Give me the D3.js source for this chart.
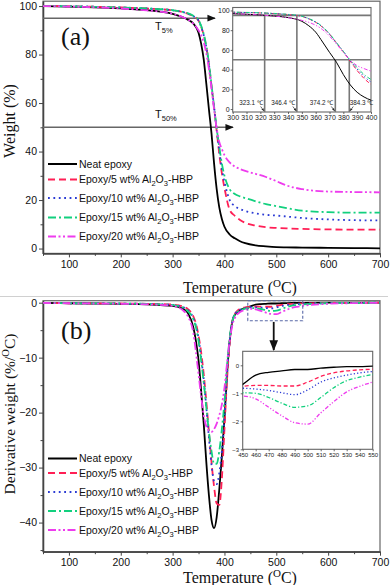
<!DOCTYPE html>
<html><head><meta charset="utf-8">
<script src="https://cdn.jsdelivr.net/npm/d3@7"></script>
<style>body{margin:0;background:#fff}svg{display:block}</style>
</head><body>
<svg id="c" width="390" height="585"></svg>
<script>
// ---------------- DATA ----------------
const loadings = [null, 5, 10, 15, 20];   // wt% Al2O3-HBP (null = neat epoxy)

const tgaTemp = [50,100,150,200,250,300,320,330,340,350,355,360,365,370,375,380,385,390,395,400,410,420,430,440,460,480,500,520,550,600,650,700];
const tgaNeat = [100,99.8,99.5,99.0,98.3,96.8,95.4,94.3,92.8,89,84.5,78,68,57.5,47.5,35,24.5,17,12.2,9,5.8,4.2,3,2.2,1.3,0.9,0.6,0.5,0.4,0.3,0.2,0.1];
const tga5    = [100,99.9,99.7,99.4,99.0,98.2,97.5,96.8,95.8,94,91.5,88,83,76,67,58,48.5,39,31,25,16,13.5,11.8,10.6,9.5,8.8,8.5,8.3,8.1,7.9,7.8,7.8];
const tga10   = [100,99.9,99.7,99.4,99.0,98.2,97.5,96.8,95.8,94,91.5,88,83,76,67,58.5,49,40.5,33,27.5,20,17.5,16.3,15.5,14.5,13.9,13.6,13.2,12.6,12.0,11.7,11.6];
const tga15   = [100,99.9,99.7,99.4,99.0,98.3,97.6,97,96,94.2,91.8,88.5,83.5,76.5,67.5,58.5,49.5,42,35,30,24.5,22.5,21.5,20.8,19.5,18.3,17.5,16.7,15.6,15,14.8,14.8];
const tga20   = [100,99.8,99.5,99.0,98.2,96.8,95.4,94.3,92.7,90,88,85,80.5,74,66,57.5,49.5,44,41,38.5,35.5,33.8,32.8,32,30.8,29.5,27.8,26,24.5,23.5,23.3,23.2];

const dtgTemp = [50,100,150,200,250,300,320,330,340,345,350,355,360,365,370,375,380,385,390,395,400,405,410,415,420,430,440,450,460,470,480,490,500,510,520,530,540,550,600,650,700];
const dtgNeat = [-0.05,-0.1,-0.15,-0.2,-0.3,-0.6,-1.1,-2.0,-4.5,-7,-10.5,-16,-22,-29,-35,-39.5,-41,-39,-34,-28,-21,-13,-7,-3.5,-2.2,-1.4,-0.95,-0.68,-0.35,-0.25,-0.2,-0.15,-0.15,-0.1,-0.07,-0.05,-0.05,-0.03,0,0,0];
const dtg5    = [-0.05,-0.1,-0.12,-0.15,-0.2,-0.35,-0.7,-1.2,-2.5,-3.8,-6,-9,-13,-18,-23.5,-29,-33.5,-36.5,-36.8,-32,-23,-14,-7.5,-3.5,-2,-1.1,-0.85,-0.75,-0.72,-0.72,-0.74,-0.74,-0.6,-0.4,-0.27,-0.2,-0.16,-0.14,-0.05,-0.02,0];
const dtg10   = [-0.05,-0.1,-0.12,-0.15,-0.22,-0.4,-0.8,-1.4,-2.8,-4.2,-6.5,-10,-14,-19,-24.5,-29.5,-32.5,-33,-31,-27,-21,-13,-7,-3.5,-2.1,-1.3,-1.0,-0.82,-0.85,-0.9,-0.98,-1.05,-0.88,-0.6,-0.45,-0.35,-0.27,-0.22,-0.08,-0.03,0];
const dtg15   = [-0.05,-0.1,-0.12,-0.15,-0.22,-0.45,-0.9,-1.6,-3,-4.5,-7,-10.5,-14.5,-19,-23.5,-27,-29.3,-29.3,-27,-23,-18,-11.5,-6.5,-3.5,-2.2,-1.4,-1.1,-0.98,-1.0,-1.15,-1.35,-1.5,-1.45,-1.15,-0.8,-0.55,-0.42,-0.33,-0.1,-0.04,0];
const dtg20   = [-0.05,-0.1,-0.15,-0.2,-0.3,-0.6,-1.4,-2.6,-5.5,-9,-13,-17,-20.5,-22.5,-23.3,-23.5,-23,-22,-20.5,-18.5,-15.5,-11,-7,-4.2,-2.8,-1.7,-1.3,-1.1,-1.2,-1.5,-1.8,-2.05,-2.1,-1.7,-1.3,-0.95,-0.75,-0.6,-0.2,-0.08,-0.02];

const xTicks = [100,200,300,400,500,600,700];
const xMinor = [50,150,250,350,450,550,650];
const yTicksA = [0,20,40,60,80,100];
const yMinorA = [10,30,50,70,90];
const yTicksB = [0,-10,-20,-30,-40];
const yMinorB = [-5,-15,-25,-35,-45];
const insetATicksX = [300,310,320,330,340,350,360,370,380,390,400];
const insetATicksY = [0,20,40,60,80,100];
const insetBTicksX = [450,460,470,480,490,500,510,520,530,540,550];
const insetBTicksY = [0,-1,-2,-3];
const tPoints = [323.1, 346.4, 374.2, 384.3];
const tLevels = [95, 95, 50, 50];
const tLevelLines = [95, 50];
const tLabels = ["5%", "50%"];

// ---------------- STYLE ----------------
const styles = [
  {c:"#000000", d:null,            di:null},
  {c:"#ff1f55", d:"7,4",           di:"4,2.5"},
  {c:"#2b3bd4", d:"1.8,3.6",       di:"1.2,2.2"},
  {c:"#12d07e", d:"8,3,2,3",       di:"4,2,1.2,2"},
  {c:"#ee3cee", d:"8,2.5,2,2.5,2,2.5", di:"4,1.8,1.2,1.8,1.2,1.8"}
];
const tgaSeries = [tgaNeat, tga5, tga10, tga15, tga20];
const dtgSeries = [dtgNeat, dtg5, dtg10, dtg15, dtg20];

const svg = d3.select("#c");
const sans = "Liberation Sans, Arial, sans-serif";
const serif = "Liberation Serif, Times New Roman, serif";
const axisCol = "#444";

// defs
const defs = svg.append("defs");
defs.append("marker").attr("id","ah").attr("viewBox","0 0 10 10").attr("refX",9).attr("refY",5)
  .attr("markerWidth",6).attr("markerHeight",6).attr("orient","auto")
  .append("path").attr("d","M0,1 L10,5 L0,9 Z").attr("fill","#111");
defs.append("marker").attr("id","ahs").attr("viewBox","0 0 10 10").attr("refX",9).attr("refY",5)
  .attr("markerWidth",4).attr("markerHeight",4).attr("orient","auto")
  .append("path").attr("d","M0,1 L10,5 L0,9 Z").attr("fill","#222");

const X0 = 43, X1 = 380;
const x = d3.scaleLinear().domain([50,700]).range([X0,X1]);
const yA = d3.scaleLinear().domain([-2,102]).range([253.4,1.2]);
const yB = d3.scaleLinear().domain([-45.3,0.36]).range([551.7,300.7]);

function clip(id, x0, y0, w, h){
  defs.append("clipPath").attr("id",id).append("rect").attr("x",x0).attr("y",y0).attr("width",w).attr("height",h);
}

function mainAxes(y, yTicks, yMinor){
  const r = y.range();
  const g = svg.append("g");
  g.append("rect").attr("x",X0).attr("y",r[1]).attr("width",X1-X0).attr("height",r[0]-r[1])
    .attr("fill","none").attr("stroke","#666").attr("stroke-width",1.2);
  const ax = g.append("g").attr("transform",`translate(0,${r[0]})`)
    .call(d3.axisBottom(x).tickValues(xTicks).tickSize(4).tickPadding(3).tickSizeOuter(0));
  const axm = g.append("g").attr("transform",`translate(0,${r[0]})`)
    .call(d3.axisBottom(x).tickValues(xMinor).tickSize(2.5).tickFormat("").tickSizeOuter(0));
  const ay = g.append("g").attr("transform",`translate(${X0},0)`)
    .call(d3.axisLeft(y).tickValues(yTicks).tickSize(4).tickPadding(2).tickSizeOuter(0));
  const aym = g.append("g").attr("transform",`translate(${X0},0)`)
    .call(d3.axisLeft(y).tickValues(yMinor.filter(v=>v>=y.domain()[0] && v<=y.domain()[1])).tickSize(2.5).tickFormat("").tickSizeOuter(0));
  [ax,axm,ay,aym].forEach(a=>{
    a.selectAll("path").attr("stroke",axisCol).attr("stroke-width",1.3);
    a.selectAll("line").attr("stroke",axisCol).attr("stroke-width",1);
    a.selectAll("text").attr("font-family",sans).attr("font-size","10.5px").attr("fill","#111");
  });
  return g;
}

function drawCurves(g, xs, temps, seriesArr, y, clipId, lw, inset){
  const gg = g.append("g").attr("clip-path",`url(#${clipId})`);
  seriesArr.forEach((vals,i)=>{
    const pts = temps.map((t,k)=>[t, vals[k]]);
    const line = d3.line().x(d=>xs(d[0])).y(d=>y(d[1])).curve(d3.curveMonotoneX);
    gg.append("path").attr("d",line(pts)).attr("fill","none")
      .attr("stroke",styles[i].c).attr("stroke-width",lw)
      .attr("stroke-dasharray", inset ? styles[i].di : styles[i].d);
  });
}

function legendLabel(g, lx, ly, loading, fs){
  const t = g.append("text").attr("x",lx).attr("y",ly).attr("font-family",sans).attr("font-size",fs+"px").attr("fill","#111");
  if(loading===null){ t.text("Neat epoxy"); return; }
  t.append("tspan").text(`Epoxy/${loading} wt% Al`);
  t.append("tspan").attr("font-size",(fs*0.72)+"px").attr("dy",3).text("2");
  t.append("tspan").attr("dy",-3).text("O");
  t.append("tspan").attr("font-size",(fs*0.72)+"px").attr("dy",3).text("3");
  t.append("tspan").attr("dy",-3).text("-HBP");
}

function legend(ys){
  const g = svg.append("g");
  loadings.forEach((l,i)=>{
    g.append("line").attr("x1",48).attr("x2",77).attr("y1",ys[i]).attr("y2",ys[i])
      .attr("stroke",styles[i].c).attr("stroke-width",2).attr("stroke-dasharray",styles[i].d);
    legendLabel(g, 79, ys[i]+3.5, l, 10.5);
  });
}

function tempTitle(yPos){
  const t = svg.append("text").attr("x",240).attr("y",yPos).attr("text-anchor","middle")
    .attr("font-family",serif).attr("font-size","16px").attr("fill","#111");
  t.append("tspan").text("Temperature  (");
  t.append("tspan").attr("font-size","11px").attr("dy",-6).text("O");
  t.append("tspan").attr("dy",6).text("C)");
}

// ================= PANEL (a) =================
clip("clipA", X0, yA.range()[1], X1-X0, yA.range()[0]-yA.range()[1]);
mainAxes(yA, yTicksA, yMinorA);

const tArrowEnd = [215, 233];
tLevelLines.forEach((lv,i)=>{
  svg.append("line").attr("x1",X0).attr("x2",tArrowEnd[i]).attr("y1",yA(lv)).attr("y2",yA(lv))
    .attr("stroke","#666").attr("stroke-width",1.4).attr("marker-end","url(#ah)");
  const t = svg.append("text").attr("x",155).attr("y",yA(lv)+ (i===0?12:-9)).attr("font-family",sans)
    .attr("font-size","11px").attr("fill","#111");
  t.append("tspan").text("T");
  t.append("tspan").attr("font-size","7.5px").attr("dy",3).text(tLabels[i]);
});

drawCurves(svg, x, tgaTemp, tgaSeries, yA, "clipA", 1.8, false);

svg.append("text").attr("x",61).attr("y",45).attr("font-family",serif).attr("font-size","26px").attr("fill","#111").text("(a)");
legend([164,179.5,198,217.5,236.5]);
tempTitle(293);

svg.append("text").attr("transform","translate(15,121) rotate(-90)").attr("text-anchor","middle")
  .attr("font-family",serif).attr("font-size","16px").attr("fill","#111").text("Weight (%)");

// ---- inset (a)
const xiA = d3.scaleLinear().domain([300,400]).range([232.7,371]);
const yiA = d3.scaleLinear().domain([-3,103]).range([112,7.5]);
{
  const g = svg.append("g");
  g.append("rect").attr("x",232.7).attr("y",7.5).attr("width",371-232.7).attr("height",112-7.5)
    .attr("fill","#fff").attr("stroke","#666").attr("stroke-width",1.1);
  clip("clipIA",232.7,7.5,371-232.7,112-7.5);
  tLevelLines.forEach(lv=>{
    g.append("line").attr("x1",232.7).attr("x2",371).attr("y1",yiA(lv)).attr("y2",yiA(lv))
      .attr("stroke","#777").attr("stroke-width",1.6);
  });
  tPoints.forEach((tp,i)=>{
    const last = i===tPoints.length-1;
    g.append("line").attr("x1",xiA(tp)).attr("x2",xiA(tp)).attr("y1",yiA(-3)).attr("y2",yiA(tLevels[i]))
      .attr("stroke","#777").attr("stroke-width",1.6);
    g.append("text").attr("x",last ? xiA(tp)+0.5 : xiA(tp)-2).attr("y",105).attr("text-anchor",last?"start":"end")
      .attr("font-family",sans).attr("font-size","6.3px").attr("fill","#222").text(tp.toFixed(1)+" ℃");
    const sx = last ? xiA(tp)+4 : xiA(tp)-4;
    const ex = last ? xiA(tp)+0.8 : xiA(tp)-0.8;
    g.append("line").attr("x1",sx).attr("y1",106.5).attr("x2",ex).attr("y2",110.8)
      .attr("stroke","#222").attr("stroke-width",0.7).attr("marker-end","url(#ahs)");
  });
  drawCurves(g, xiA, tgaTemp, tgaSeries, yiA, "clipIA", 1.0, true);
  const ax = g.append("g").attr("transform","translate(0,112)")
    .call(d3.axisBottom(xiA).tickValues(insetATicksX).tickSize(2).tickPadding(1.5).tickSizeOuter(0).tickFormat(d3.format("d")));
  const ay = g.append("g").attr("transform","translate(232.7,0)")
    .call(d3.axisLeft(yiA).tickValues(insetATicksY).tickSize(2).tickPadding(1).tickSizeOuter(0).tickFormat(d3.format("d")));
  [ax,ay].forEach(a=>{
    a.selectAll("path").attr("stroke","none");
    a.selectAll("line").attr("stroke","#444").attr("stroke-width",0.8);
    a.selectAll("text").attr("font-family",sans).attr("font-size","7px").attr("fill","#222");
  });
}

// separator
svg.append("line").attr("x1",0).attr("x2",388).attr("y1",296.5).attr("y2",296.5).attr("stroke","#d0d0d0").attr("stroke-width",1);

// ================= PANEL (b) =================
clip("clipB", X0, yB.range()[1], X1-X0, yB.range()[0]-yB.range()[1]);
mainAxes(yB, yTicksB, yMinorB);
drawCurves(svg, x, dtgTemp, dtgSeries, yB, "clipB", 1.8, false);

svg.append("text").attr("x",61).attr("y",339).attr("font-family",serif).attr("font-size","26px").attr("fill","#111").text("(b)");
legend([458.5,473,492,511,530]);
tempTitle(583);
{
  const t = svg.append("text").attr("transform","translate(15,414) rotate(-90)").attr("text-anchor","middle")
    .attr("font-family",serif).attr("font-size","15.5px").attr("fill","#111");
  t.append("tspan").text("Derivative weight (%/");
  t.append("tspan").attr("font-size","10.5px").attr("dy",-6).text("O");
  t.append("tspan").attr("dy",6).text("C)");
}

// dashed zoom box + arrow
svg.append("rect").attr("x",x(445)).attr("y",yB(0.36)).attr("width",x(551)-x(445)).attr("height",yB(-3.3)-yB(0.36))
  .attr("fill","none").attr("stroke","#5a6aa8").attr("stroke-width",1.1).attr("stroke-dasharray","3,2");
svg.append("line").attr("x1",x(495)).attr("x2",x(495)).attr("y1",yB(-3.5)).attr("y2",350)
  .attr("stroke","#111").attr("stroke-width",1.8).attr("marker-end","url(#ah)");

// ---- inset (b)
const xiB = d3.scaleLinear().domain([450,550]).range([242.7,372.7]);
const yiB = d3.scaleLinear().domain([-3,0.5]).range([449.3,351.3]);
{
  const g = svg.append("g");
  g.append("rect").attr("x",242.7).attr("y",351.3).attr("width",130).attr("height",98)
    .attr("fill","#fff").attr("stroke","#666").attr("stroke-width",1.1);
  clip("clipIB",242.7,351.3,130,98);
  drawCurves(g, xiB, dtgTemp, dtgSeries, yiB, "clipIB", 1.3, true);
  const ax = g.append("g").attr("transform","translate(0,449.3)")
    .call(d3.axisBottom(xiB).tickValues(insetBTicksX).tickSize(2).tickPadding(1.5).tickSizeOuter(0).tickFormat(d3.format("d")));
  const ay = g.append("g").attr("transform","translate(242.7,0)")
    .call(d3.axisLeft(yiB).tickValues(insetBTicksY).tickSize(2).tickPadding(1.5).tickSizeOuter(0).tickFormat(d3.format("d")));
  [ax,ay].forEach(a=>{
    a.selectAll("path").attr("stroke","none");
    a.selectAll("line").attr("stroke","#444").attr("stroke-width",0.8);
    a.selectAll("text").attr("font-family",sans).attr("font-size","6px").attr("fill","#222");
  });
}
</script>
</body></html>
